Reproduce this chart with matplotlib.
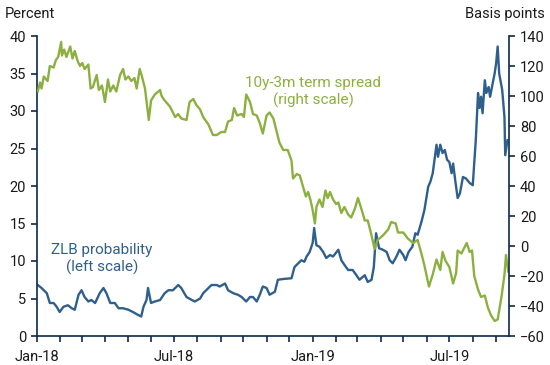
import numpy as np
import matplotlib
matplotlib.use('Agg')
import matplotlib.pyplot as plt
import matplotlib.dates as mdates

plt.rcParams['font.family'] = ['Roboto', 'DejaVu Sans']

# Data (days since 1 Jan 2018)
start = np.datetime64('2018-01-01')

spread_days = [1, 4, 6, 9, 14, 17, 22, 25, 28, 32, 33, 36, 39, 44, 47, 50, 54, 57, 60, 63,
               68, 71, 74, 79, 82, 86, 90, 94, 97, 101, 105, 110, 114, 117, 121, 125, 129, 132, 136, 139,
               143, 148, 151, 156, 163, 165, 169, 176, 183, 187, 191, 198, 202, 207, 211, 216, 220, 227, 233, 238,
               244, 249, 253, 258, 261, 265, 271, 274, 277, 282, 286, 291, 295, 299, 304, 308, 313, 317, 321, 326,
               332, 337, 339, 344, 348, 352, 356, 359, 362, 365, 368, 370, 374, 378, 382, 385, 388, 392, 396, 399,
               403, 407, 412, 416, 421, 425, 430, 434, 438, 443, 447, 451, 458, 465, 469, 475, 478, 485, 491, 498,
               504, 509, 513, 519, 524, 529, 534, 537, 541, 546, 551, 555, 557, 562, 565, 569, 573, 576, 579, 584,
               588, 593, 597, 601, 606, 610, 615, 619, 621, 624]
spread_bp = [103, 109, 105, 113, 110, 120, 119, 124, 126, 136, 127, 131, 126, 133, 125, 130, 123, 120, 122, 118,
             121, 105, 106, 114, 104, 107, 96, 111, 103, 107, 103, 114, 118, 111, 113, 110, 112, 105, 118, 113,
             105, 84, 97, 101, 104, 100, 97, 93, 86, 88, 85, 84, 96, 98, 94, 91, 86, 81, 74, 74,
             76, 76, 83, 84, 92, 87, 88, 86, 101, 96, 88, 87, 82, 75, 87, 89, 85, 77, 69, 64,
             64, 57, 45, 48, 47, 40, 33, 36, 31, 24, 15, 26, 31, 26, 37, 32, 36, 31, 28, 29,
             22, 26, 21, 19, 25, 32, 24, 17, 17, 7, -2, 4, 7, 11, 16, 15, 9, 9, 5, 2,
             4, -5, -13, -27, -19, -9, -16, -4, -10, -14, -25, -18, -3, -5, -2, 2, -4, -3, -20, -29,
             -34, -33, -41, -46, -50, -49, -34, -19, -6, -17]

zlb_days = [1, 6, 13, 17, 22, 26, 30, 35, 41, 46, 50, 55, 59, 63, 68, 72, 77, 83, 88, 92,
            97, 103, 108, 114, 121, 127, 134, 138, 141, 145, 147, 151, 156, 163, 169, 174, 180, 187, 191, 198,
            205, 209, 216, 220, 224, 231, 238, 242, 249, 253, 260, 266, 271, 277, 282, 286, 291, 295, 299, 304,
            308, 315, 319, 326, 337, 341, 346, 350, 354, 357, 361, 365, 367, 370, 374, 379, 383, 388, 392, 399,
            403, 407, 412, 418, 423, 427, 434, 438, 443, 446, 449, 453, 458, 463, 467, 471, 476, 480, 485, 488,
            492, 497, 501, 504, 509, 513, 518, 521, 524, 529, 531, 534, 537, 540, 543, 546, 549, 551, 554, 557,
            560, 564, 568, 573, 577, 581, 584, 586, 588, 590, 593, 595, 598, 600, 603, 606, 608, 610, 612, 616,
            619, 620, 623]
zlb_pct = [6.8, 6.4, 5.7, 4.4, 4.4, 3.9, 3.2, 3.9, 4.1, 3.7, 3.5, 5.5, 6.1, 5.2, 4.6, 4.8, 4.4, 5.7, 6.4, 5.7,
           4.4, 4.4, 3.7, 3.7, 3.5, 3.2, 2.8, 2.6, 3.9, 4.8, 6.4, 4.4, 4.6, 4.8, 5.7, 6.1, 6.1, 6.8, 6.4, 5.2,
           4.8, 4.6, 5.0, 5.7, 6.1, 6.8, 6.8, 6.6, 7.0, 6.1, 5.7, 5.5, 5.2, 4.6, 5.2, 5.2, 4.6, 5.5, 6.6, 6.4,
           5.5, 5.9, 7.5, 7.6, 7.7, 9.2, 9.7, 10.1, 9.9, 10.6, 11.2, 12.4, 14.4, 12.1, 11.9, 11.2, 10.4, 10.8, 10.6, 11.5,
           10.1, 9.5, 8.8, 8.8, 8.1, 7.5, 8.1, 7.2, 7.5, 9.2, 13.7, 11.7, 11.5, 11.2, 10.1, 9.7, 10.6, 11.5, 10.8, 10.1,
           11.2, 11.9, 13.7, 13.5, 15.2, 16.8, 19.9, 20.6, 21.7, 25.5, 23.9, 25.5, 24.4, 24.8, 23.5, 23.2, 21.7, 23.0, 20.6, 18.4,
           19.0, 21.2, 21.0, 20.4, 20.1, 26.1, 32.4, 30.4, 31.9, 29.7, 34.1, 32.4, 33.2, 31.9, 33.5, 35.0, 36.4, 38.6, 35.0, 32.8,
           29.2, 24.1, 26.1]

left_ticks = [0, 5, 10, 15, 20, 25, 30, 35, 40]
right_ticks = [-60, -40, -20, 0, 20, 40, 60, 80, 100, 120, 140]

spread_dates = start + np.array(spread_days).astype('timedelta64[D]')
zlb_dates = start + np.array(zlb_days).astype('timedelta64[D]')

green = '#8cb040'
blue = '#2f5f8c'
navy = '#0d2a4a'
txt = '#1a1a1a'

fig = plt.figure(figsize=(5.5, 3.65), dpi=100)
ax = fig.add_axes([37/550, 1 - 336/365, (509 - 37)/550, (336 - 36)/365])
ax2 = ax.twinx()

ax.plot(zlb_dates, zlb_pct, color=blue, lw=1.7)
ax2.plot(spread_dates, spread_bp, color=green, lw=1.7)

ax.set_ylim(0, 40)
ax.set_yticks(left_ticks)
ax2.set_ylim(-60, 140)
ax2.set_yticks(right_ticks)
ax.set_xlim(np.datetime64('2018-01-01'), np.datetime64('2019-09-18'))

ax.xaxis.set_major_locator(mdates.MonthLocator(bymonth=[1, 7]))
ax.xaxis.set_major_formatter(mdates.DateFormatter('%b-%y'))
ax.xaxis.set_minor_locator(mdates.MonthLocator())

for a in (ax, ax2):
    a.spines['top'].set_visible(False)
    for s in a.spines.values():
        s.set_color(navy)
        s.set_linewidth(1.2)
ax.spines['right'].set_visible(False)
ax2.spines['left'].set_visible(False)
ax2.spines['bottom'].set_visible(False)

ax.tick_params(axis='both', which='both', direction='out', color=navy, width=1.2,
               labelsize=10.5, labelcolor=txt)
ax.tick_params(axis='y', length=4, pad=4)
ax.tick_params(axis='x', which='major', length=4, pad=6)
ax.tick_params(axis='x', which='minor', length=4)
ax2.tick_params(axis='y', direction='out', color=navy, width=1.2, length=4, pad=4,
                labelsize=10.5, labelcolor=txt)

fig.text(5/550, 1 - 14/365, 'Percent', fontsize=10.5, color=txt, ha='left', va='center')
fig.text(545/550, 1 - 14/365, 'Basis points', fontsize=10.5, color=txt, ha='right', va='center')

fig.text(313/550, 1 - 92/365, '10y-3m term spread\n(right scale)', fontsize=11, color=green,
         ha='center', va='center', linespacing=1.2)
fig.text(102/550, 1 - 259/365, 'ZLB probability\n(left scale)', fontsize=11, color=blue,
         ha='center', va='center', linespacing=1.2)

fig.savefig('out.png', dpi=100)
